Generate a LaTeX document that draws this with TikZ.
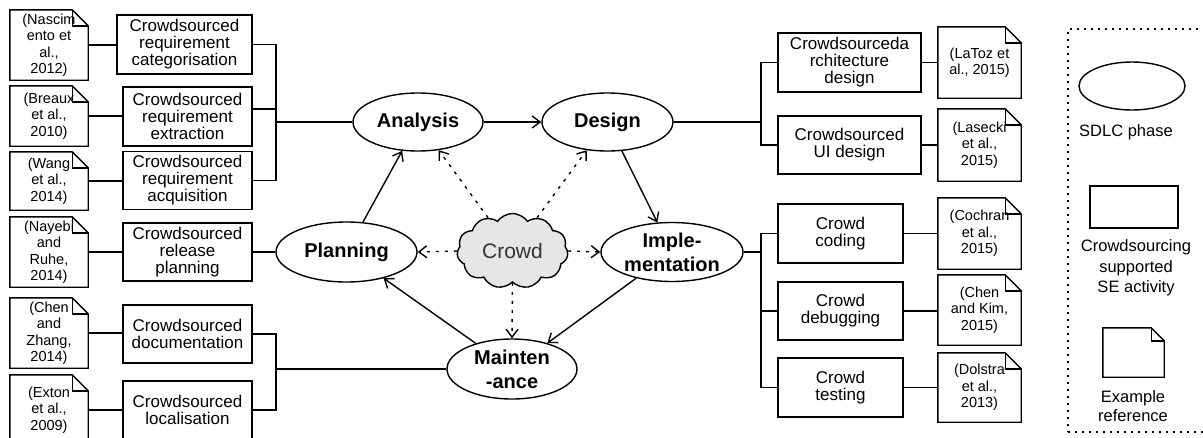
\documentclass[tikz,border=0pt]{standalone}
\usepackage{fontspec}
\setmainfont{Liberation Sans}
\usetikzlibrary{shapes.geometric,shapes.symbols,arrows.meta}
\newcommand{\fsz}[2]{\fontsize{#1}{#2}\selectfont}
\definecolor{cloudgrey}{HTML}{E6E6E6}
\definecolor{crowdtext}{HTML}{333333}
\tikzset{
  phase/.style={ellipse, draw, line width=1.4pt, fill=white, inner sep=0pt,
    align=center, font=\bfseries\fsz{20}{24}},
  activity/.style={rectangle, draw, line width=1.4pt, fill=white, inner sep=0pt,
    align=center, font=\fsz{17}{17}},
  refdoc/.style={rectangle, inner sep=0pt, align=center, font=\fsz{14.5}{16.5}},
  link/.style={line width=1.4pt},
  flow/.style={line width=1.4pt, -{Straight Barb[length=8pt,width=12pt]}},
  crowdflow/.style={line width=1.4pt, dash pattern=on 3pt off 6pt,
    -{Straight Barb[length=8pt,width=12pt]}},
  outline/.style={line width=1.4pt, line join=miter},
  keytext/.style={align=center, inner sep=0pt, font=\fsz{16.5}{20.5}},
}
\begin{document}
\begin{tikzpicture}[x=1pt, y=-1pt]
\useasboundingbox (0,0) rectangle (1203,437);

% SDLC phases
\node[phase, minimum width=130pt, minimum height=58pt] (ana) at (418,122) {Analysis};
\node[phase, minimum width=131pt, minimum height=58pt] (des) at (607.5,122) {Design};
\node[phase, minimum width=141pt, minimum height=60pt] (plan) at (346.5,252) {Planning};
\node[phase, minimum width=142pt, minimum height=59pt] (impl) at (672,252) {Imple-\\mentation};
\node[phase, minimum width=130pt, minimum height=60pt] (maint) at (512,369) {Mainten\\-ance};

% the crowd
\node[cloud, cloud puffs=11, cloud puff arc=110, cloud ignores aspect, draw,
  line width=1.4pt, fill=cloudgrey, inner sep=0pt, minimum width=111pt,
  minimum height=75pt, text=crowdtext, font=\fsz{21}{24}] (crowd) at (512.5,251) {Crowd};

% activities on the left
\node[activity, minimum width=135pt, minimum height=59pt] (cat) at (184.5,44.5) {Crowdsourced\\requirement\\categorisation};
\node[activity, minimum width=129pt, minimum height=59pt] (ext) at (187.5,116.5) {Crowdsourced\\requirement\\extraction};
\node[activity, minimum width=129pt, minimum height=58pt] (acq) at (187.5,180.5) {Crowdsourced\\requirement\\acquisition};
\node[activity, minimum width=129pt, minimum height=58pt] (rel) at (187.5,252) {Crowdsourced\\release\\planning};
\node[activity, minimum width=129pt, minimum height=58pt] (docu) at (187.5,334) {Crowdsourced\\documentation};
\node[activity, minimum width=129pt, minimum height=58pt] (loc) at (187.5,410) {Crowdsourced\\localisation};

% activities on the right
\node[activity, minimum width=143pt, minimum height=59pt] (arch) at (849.5,62.5) {Crowdsourceda\\rchitecture\\design};
\node[activity, minimum width=143pt, minimum height=58pt] (ui) at (849.5,145) {Crowdsourced\\UI design};
\node[activity, minimum width=125pt, minimum height=59pt] (code) at (840.5,233.5) {Crowd\\coding};
\node[activity, minimum width=125pt, minimum height=58pt] (debug) at (840.5,311) {Crowd\\debugging};
\node[activity, minimum width=125pt, minimum height=59pt] (test) at (840.5,387.5) {Crowd\\testing};

% references on the left
\node[refdoc, minimum width=78pt, minimum height=70pt] (nasc) at (49,45) {(Nascim\\ento et\\al.,\\2012)};
\node[refdoc, minimum width=78pt, minimum height=60pt] (breaux) at (49,116) {(Breaux\\et al.,\\2010)};
\node[refdoc, minimum width=78pt, minimum height=58pt] (wang) at (49,181) {(Wang\\et al.,\\2014)};
\node[refdoc, minimum width=78pt, minimum height=70pt] (nayebi) at (49,252) {(Nayebi\\and\\Ruhe,\\2014)};
\node[refdoc, minimum width=78pt, minimum height=70pt] (chenz) at (49,333) {(Chen\\and\\Zhang,\\2014)};
\node[refdoc, minimum width=78pt, minimum height=70pt] (exton) at (49,410) {(Exton\\et al.,\\2009)};

% references on the right
\node[refdoc, minimum width=83pt, minimum height=71pt] (latoz) at (979.5,62.5) {(LaToz et\\al., 2015)};
\node[refdoc, minimum width=83pt, minimum height=72pt] (lasecki) at (979.5,145) {(Lasecki\\et al.,\\2015)};
\node[refdoc, minimum width=83pt, minimum height=71pt] (cochran) at (979.5,233.5) {(Cochran\\et al.,\\2015)};
\node[refdoc, minimum width=83pt, minimum height=70pt] (chenk) at (979.5,310) {(Chen\\and Kim,\\2015)};
\node[refdoc, minimum width=83pt, minimum height=69pt] (dolstra) at (979.5,387.5) {(Dolstra\\et al.,\\2013)};

% folded-corner outlines of the references
\foreach \n in {nasc,breaux,wang,nayebi,chenz,exton,latoz,lasecki,cochran,chenk,dolstra}{
  \draw[outline] (\n.north west) -- ([xshift=-16pt]\n.north east)
    -- ([yshift=-16pt]\n.north east) -- (\n.south east) -- (\n.south west) -- cycle;
  \draw[outline] ([xshift=-16pt]\n.north east) |- ([yshift=-16pt]\n.north east);
}

% junctions of the connector buses
\coordinate (busL1) at (276,122);
\coordinate (busL2) at (276,369);
\coordinate (busR1) at (761,122);
\coordinate (busR2) at (761,252);

% references to activities
\foreach \r/\a in {nasc/cat,breaux/ext,wang/acq,nayebi/rel,chenz/docu,exton/loc}{
  \draw[link] (\r.east) -- (\r.east -| \a.west);
}
\foreach \a/\r in {arch/latoz,ui/lasecki,code/cochran,debug/chenk,test/dolstra}{
  \draw[link] (\a.east) -- (\a.east -| \r.west);
}

% activities to phases
\draw[link] (cat.east) -| (busL1);
\draw[link] ([yshift=7.5pt]ext.east) -| (busL1);
\draw[link] (acq.east) -| (busL1);
\draw[link] (busL1) -- (ana.west);
\draw[link] (rel.east) -- (plan.west);
\draw[link] (docu.east) -| (busL2);
\draw[link] (loc.east) -| (busL2);
\draw[link] (busL2) -- (maint.west);
\draw[link] (des.east) -- (busR1);
\draw[link] (busR1) |- (arch.west);
\draw[link] (busR1) |- (ui.west);
\draw[link] (impl.east) -- (busR2);
\draw[link] (busR2) |- (code.west);
\draw[link] (busR2) |- (debug.west);
\draw[link] (busR2) |- (test.west);

% the life cycle
\draw[flow] (ana) -- (des);
\draw[flow] (des) -- (impl);
\draw[flow] (impl) -- (maint);
\draw[flow] (maint) -- (plan);
\draw[flow] (plan) -- (ana);

% crowd support
\draw[crowdflow] (crowd) -- (ana);
\draw[crowdflow] (crowd) -- (des);
\draw[crowdflow] (crowd.west) -- (plan.east);
\draw[crowdflow] (crowd.east) -- (impl.west);
\draw[crowdflow] (crowd.south) -- (maint.north);

% legend
\node[draw, line width=1.4pt, dash pattern=on 2pt off 5pt, minimum width=147pt,
  minimum height=403pt, inner sep=0pt] (legend) at (1141.5,230.5) {};
\node[ellipse, draw, line width=1.4pt, minimum width=106pt, minimum height=48pt,
  inner sep=0pt] (keyphase) at (1132,86) {};
\node[keytext, anchor=west] (keyphasetext) at (1079,132) {SDLC phase};
\node[activity, minimum width=88pt, minimum height=42pt] (keyact) at (1134,207) {};
\node[keytext] (keyacttext) at (1136,268) {Crowdsourcing\\supported\\SE activity};
\node[refdoc, minimum width=61pt, minimum height=49pt] (keyref) at (1133.5,352.5) {};
\draw[outline] (keyref.north west) -- ([xshift=-13pt]keyref.north east)
  -- ([yshift=-13pt]keyref.north east) -- (keyref.south east) -- (keyref.south west) -- cycle;
\draw[outline] ([xshift=-13pt]keyref.north east) |- ([yshift=-13pt]keyref.north east);
\node[keytext, font=\fsz{16.5}{18.5}] (keyreftext) at (1133,406) {Example\\reference};
\end{tikzpicture}
\end{document}
